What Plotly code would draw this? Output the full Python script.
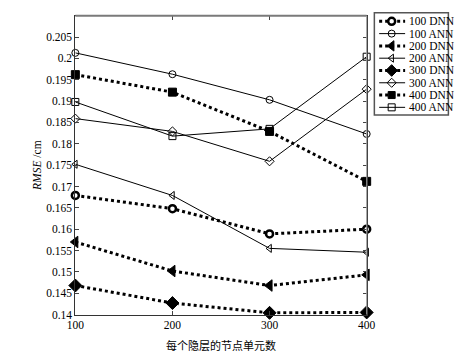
import plotly.graph_objects as go

W, H = 467, 353

nodes = [100, 200, 300, 400]
dnn100 = [0.1679, 0.1648, 0.1589, 0.1600]
ann100 = [0.2013, 0.1963, 0.1903, 0.1823]
dnn200 = [0.1570, 0.1502, 0.1468, 0.1493]
ann200 = [0.1752, 0.1679, 0.1555, 0.1546]
dnn300 = [0.1468, 0.1427, 0.1404, 0.1405]
ann300 = [0.1859, 0.1829, 0.1759, 0.1928]
dnn400 = [0.1962, 0.1921, 0.1829, 0.1712]
ann400 = [0.1898, 0.1818, 0.1835, 0.2004]

names = ["100 DNN", "100 ANN", "200 DNN", "200 ANN", "300 DNN", "300 ANN", "400 DNN", "400 ANN"]
series = [dnn100, ann100, dnn200, ann200, dnn300, ann300, dnn400, ann400]

ytickvals = [0.14, 0.145, 0.15, 0.155, 0.16, 0.165, 0.17, 0.175, 0.18, 0.185, 0.19, 0.195, 0.2, 0.205]
yticktext = ["0.14", "0.145", "0.15", "0.155", "0.16", "0.165", "0.17", "0.175", "0.18", "0.185", "0.19", "0.195", "0.2", "0.205"]
xtickvals = [100, 200, 300, 400]
xticktext = ["100", "200", "300", "400"]

x_label = "每个隐层的节点单元数"
y_label = "<i>RMSE</i> /cm"

def style(i):
    if i % 2 == 0:
        sym = ["circle", "triangle-left", "diamond", "square"][i // 2]
        if sym == "circle":
            marker = dict(symbol=sym, size=7, color="white", line=dict(color="black", width=2.5))
        else:
            marker = dict(symbol=sym, size=10 if sym != "square" else 8, color="black", line=dict(color="black", width=1))
        line = dict(color="black", width=3, dash="dot")
    else:
        sym = ["circle-open", "triangle-left-open", "diamond-open", "square-open"][i // 2]
        marker = dict(symbol=sym, size=7, color="black", line=dict(color="black", width=1))
        line = dict(color="black", width=1)
    return line, marker

fig = go.Figure()
for i, (nm, ys) in enumerate(zip(names, series)):
    line, marker = style(i)
    fig.add_trace(go.Scatter(x=nodes, y=ys, mode="lines+markers", name=nm,
                             line=line, marker=marker, cliponaxis=False,
                             showlegend=False, xaxis="x", yaxis="y"))

x0p, x1p, y0p, y1p = 69, 372, 16, 320
lx0, lx1, ly0, ly1 = 380, 457, 13, 117

# manual legend drawn on a secondary axis (pixel-like units)
row_y = [21.7, 34.2, 46.7, 59.2, 71.7, 84.2, 96.7, 109.2]
for i, nm in enumerate(names):
    line, marker = style(i)
    m2 = dict(marker)
    if i % 2 == 0 and i > 0:
        m2["size"] = marker["size"] - 1
    fig.add_trace(go.Scatter(x=[5, 18, 32], y=[row_y[i]] * 3, mode="lines",
                             line=line, showlegend=False, xaxis="x2", yaxis="y2", hoverinfo="skip"))
    fig.add_trace(go.Scatter(x=[18], y=[row_y[i]], mode="markers", marker=m2,
                             showlegend=False, xaxis="x2", yaxis="y2", hoverinfo="skip"))
    fig.add_annotation(x=34, y=row_y[i], xref="x2", yref="y2", text=nm, showarrow=False,
                       xanchor="left", yanchor="middle",
                       font=dict(family="Liberation Serif", size=11.5, color="black"))

fig.update_layout(
    width=W, height=H,
    margin=dict(l=0, r=0, t=0, b=0),
    paper_bgcolor="white", plot_bgcolor="white",
    font=dict(family="Liberation Serif", size=11, color="black"),
    xaxis=dict(domain=[x0p / W, x1p / W], range=[100, 400], tickvals=xtickvals, ticktext=xticktext,
               ticks="inside", ticklen=4, tickcolor="#444", showline=True, linecolor="#333", linewidth=1,
               mirror="ticks", showgrid=False, zeroline=False,
               title=dict(text=x_label, font=dict(family="Noto Sans CJK SC", size=11), standoff=11),
               tickfont=dict(family="Liberation Serif", size=11.5)),
    yaxis=dict(domain=[1 - y1p / H, 1 - y0p / H], range=[0.14, 0.21], tickvals=ytickvals, ticktext=yticktext,
               ticks="inside", ticklen=4, tickcolor="#444", showline=True, linecolor="#333", linewidth=1,
               mirror="ticks", showgrid=False, zeroline=False,
               title=dict(text=y_label, font=dict(family="Liberation Serif", size=11.5), standoff=2),
               tickfont=dict(family="Liberation Serif", size=11.5)),
    xaxis2=dict(domain=[lx0 / W, lx1 / W], range=[0, lx1 - lx0], visible=False, anchor="y2", fixedrange=True),
    yaxis2=dict(domain=[1 - ly1 / H, 1 - ly0 / H], range=[ly1, ly0], visible=False, anchor="x2", fixedrange=True),
)

# gray frame top/right and legend box
fig.add_shape(type="line", xref="paper", yref="paper", x0=x0p / W, x1=x1p / W, y0=1 - y0p / H, y1=1 - y0p / H,
              line=dict(color="#7a7a7a", width=2))
fig.add_shape(type="line", xref="paper", yref="paper", x0=x1p / W, x1=x1p / W, y0=1 - y0p / H, y1=1 - y1p / H,
              line=dict(color="#999", width=1))
fig.add_shape(type="rect", xref="paper", yref="paper", x0=lx0 / W, x1=lx1 / W, y0=1 - ly1 / H, y1=1 - ly0 / H,
              line=dict(color="#555", width=1.5))

fig.write_html("out.html")
